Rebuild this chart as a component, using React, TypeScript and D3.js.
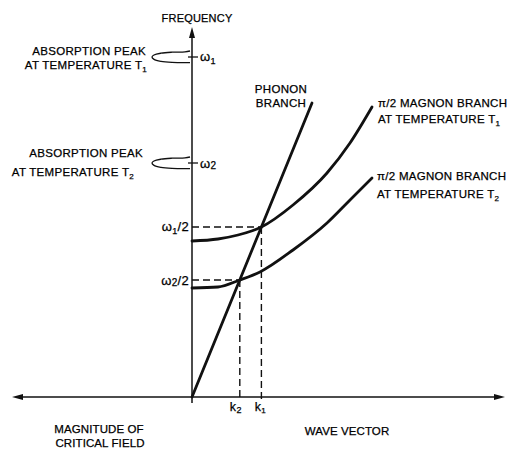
import React from 'react';
import * as d3 from 'd3';

// wave vector k (arbitrary units) and frequency w (arbitrary units)
const phonon = [[0, 0], [6.0, 14.7]];
const magnonT1 = [[0, 7.8], [1.3, 7.9], [2.3, 8.1], [3.47, 8.5], [5.05, 9.6], [6.75, 11.2], [7.9, 12.7], [9.0, 14.5]];
const magnonT2 = [[0, 5.45], [1.3, 5.5], [2.39, 5.85], [3.4, 6.25], [5.05, 7.35], [6.75, 8.7], [7.9, 9.85], [9.0, 10.95]];
const omegas = [17.0, 11.7]; // absorption peaks at T1, T2
const kCross = [3.47, 2.39]; // k1, k2
// absorption peak outline: [offset along k, offset in w]
const peakShape = [[-0.1, 0.3], [-0.35, 0.26], [-1.0, 0.24], [-1.55, 0.19], [-1.9, 0.1], [-2.0, 0], [-1.9, -0.12], [-1.55, -0.22], [-1.0, -0.27], [-0.1, -0.28]];

const W = 510;
const H = 449;
const font = 'Liberation Sans, Arial, sans-serif';

const App = () => {
  const x = d3.scaleLinear().domain([-9, 15.65]).range([12, 505]);
  const y = d3.scaleLinear().domain([0, 18.5]).range([397, 27]);

  const line = d3.line<number[]>().x(d => x(d[0])).y(d => y(d[1]));
  const curve = d3.line<number[]>().x(d => x(d[0])).y(d => y(d[1])).curve(d3.curveMonotoneX);
  const peakLine = (w0: number) =>
    d3.line<number[]>().x(d => x(d[0])).y(d => y(w0 + d[1])).curve(d3.curveCatmullRom)(peakShape) as string;

  const x0 = x(0);
  const y0 = y(0);
  const txt = { fontFamily: font, fontSize: 11.5, letterSpacing: 0.3, fill: '#000', stroke: '#000', strokeWidth: 0.25 };

  return (
    <svg width={W} height={H} style={{ position: 'absolute', left: 0, top: 0, background: '#fff' }}>
      {/* axes */}
      <g stroke="#111" strokeWidth={1.5} fill="none">
        <line x1={x(-9) + 8} y1={y0} x2={x(15.65) - 8} y2={y0} />
        <line x1={x0} y1={y(-0.3)} x2={x0} y2={y(18.5) + 8} />
      </g>
      <g fill="#111">
        <path d={`M${x(-9)},${y0} l11,-3 l0,6 z`} />
        <path d={`M${x(15.65)},${y0} l-11,-3 l0,6 z`} />
        <path d={`M${x0},${y(18.5)} l-3,11 l6,0 z`} />
      </g>

      {/* dashed projections */}
      <g stroke="#111" strokeWidth={1.4} strokeDasharray="7,4" fill="none">
        {omegas.map((w, i) => (
          <g key={i}>
            <line x1={x0} y1={y(w / 2)} x2={x(kCross[i])} y2={y(w / 2)} />
            <line x1={x(kCross[i])} y1={y(w / 2)} x2={x(kCross[i])} y2={y(-0.15)} />
          </g>
        ))}
      </g>

      {/* branches */}
      <g stroke="#111" strokeWidth={2.8} fill="none" strokeLinecap="round">
        <path d={line(phonon) as string} />
        <path d={curve(magnonT1) as string} />
        <path d={curve(magnonT2) as string} />
      </g>

      {/* absorption peaks and ticks */}
      <g stroke="#111" strokeWidth={1.3} fill="none">
        {omegas.map((w, i) => (
          <g key={i}>
            <path d={peakLine(w)} />
            <line x1={x(-0.2)} y1={y(w)} x2={x(0.3)} y2={y(w)} />
          </g>
        ))}
      </g>

      {/* labels */}
      <text {...txt} fontSize={11} letterSpacing={0.2} x={197} y={22} textAnchor="middle">FREQUENCY</text>

      <text {...txt} x={146} y={55} textAnchor="end">ABSORPTION PEAK</text>
      <text {...txt} x={147} y={69} textAnchor="end">AT TEMPERATURE T<tspan fontSize={8} dy={3}>1</tspan></text>
      <text {...txt} x={143} y={157} textAnchor="end">ABSORPTION PEAK</text>
      <text {...txt} x={134} y={176} textAnchor="end">AT TEMPERATURE T<tspan fontSize={8} dy={3}>2</tspan></text>

      <text {...txt} fontSize={13} x={x(0.4)} y={y(omegas[0]) + 4}>ω<tspan fontSize={9} dy={3}>1</tspan></text>
      <text {...txt} fontSize={13} x={x(0.4)} y={y(omegas[1]) + 5}>ω<tspan fontSize={10} dy={1}>2</tspan></text>
      <text {...txt} fontSize={13} x={x(-0.15)} y={y(omegas[0] / 2) + 4} textAnchor="end">ω<tspan fontSize={9} dy={3}>1</tspan><tspan dy={-3}>/2</tspan></text>
      <text {...txt} fontSize={13} x={x(-0.15)} y={y(omegas[1] / 2) + 5} textAnchor="end">ω<tspan fontSize={10} dy={1}>2</tspan><tspan dy={-1}>/2</tspan></text>

      <text {...txt} fontSize={12.5} x={x(kCross[1]) - 4} y={411} textAnchor="middle">k<tspan fontSize={9} dy={2}>2</tspan></text>
      <text {...txt} fontSize={12.5} x={x(kCross[0]) - 1} y={411} textAnchor="middle">k<tspan fontSize={8} dy={2}>1</tspan></text>

      <text {...txt} x={281} y={93} textAnchor="middle">PHONON</text>
      <text {...txt} x={281} y={107} textAnchor="middle">BRANCH</text>

      <text {...txt} x={378} y={107}>π/2 MAGNON BRANCH</text>
      <text {...txt} x={378} y={123}>AT TEMPERATURE T<tspan fontSize={8} dy={3}>1</tspan></text>
      <text {...txt} x={377} y={180}>π/2 MAGNON BRANCH</text>
      <text {...txt} x={377} y={198}>AT TEMPERATURE T<tspan fontSize={8} dy={3}>2</tspan></text>

      <text {...txt} letterSpacing={0.1} x={99} y={433} textAnchor="middle">MAGNITUDE OF</text>
      <text {...txt} letterSpacing={0.1} x={100} y={447} textAnchor="middle">CRITICAL FIELD</text>
      <text {...txt} letterSpacing={0.1} x={347} y={435} textAnchor="middle">WAVE VECTOR</text>
    </svg>
  );
};

export default App;
